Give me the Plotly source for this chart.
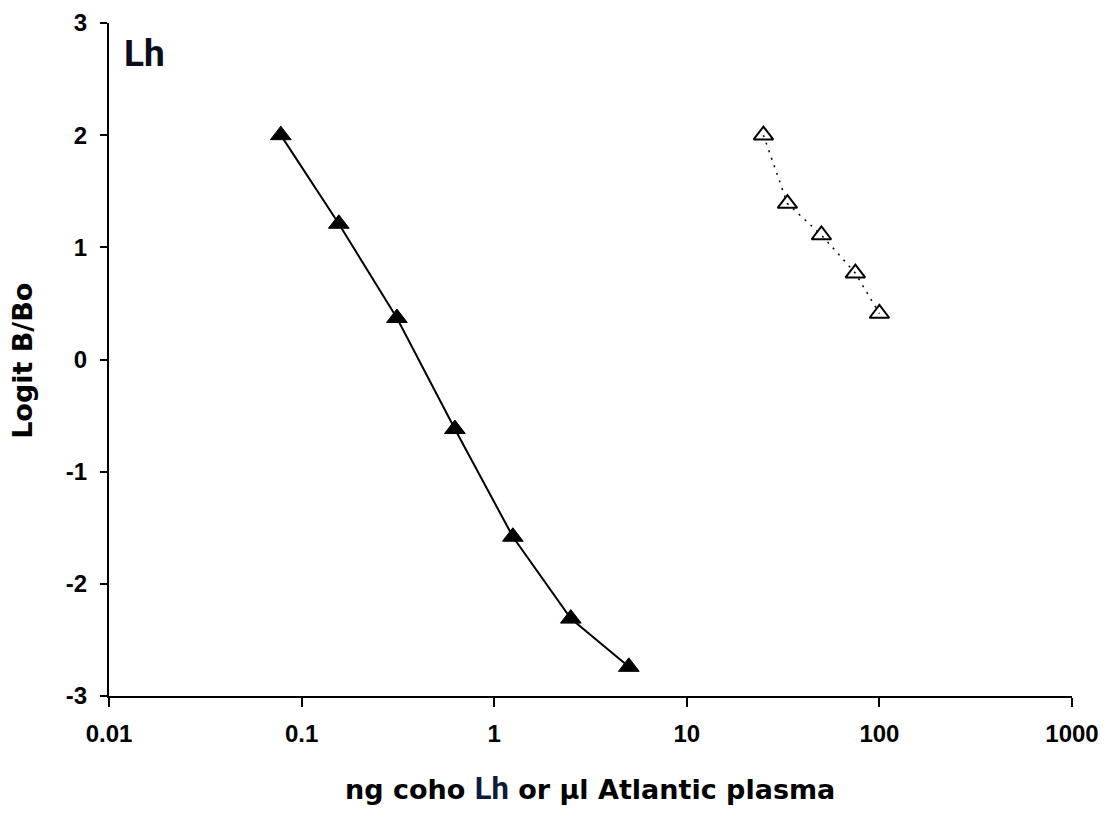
import plotly.graph_objects as go

# Data
coho_x = [0.078, 0.156, 0.3125, 0.625, 1.25, 2.5, 5.0]
coho_y = [2.0, 1.21, 0.37, -0.62, -1.58, -2.31, -2.74]
plasma_x = [25, 33.3, 50, 75, 100]
plasma_y = [2.0, 1.39, 1.11, 0.77, 0.41]

x_tickvals = [0.01, 0.1, 1, 10, 100, 1000]
x_ticktext = ["0.01", "0.1", "1", "10", "100", "1000"]
y_tickvals = [3, 2, 1, 0, -1, -2, -3]
y_ticktext = ["3", "2", "1", "0", "-1", "-2", "-3"]

fig = go.Figure()
fig.add_trace(go.Scatter(
    x=coho_x, y=coho_y, mode="lines+markers",
    line=dict(color="black", width=2),
    marker=dict(symbol="triangle-up", size=18, color="black",
                line=dict(color="black", width=1)),
    showlegend=False))
fig.add_trace(go.Scatter(
    x=plasma_x, y=plasma_y, mode="lines+markers",
    line=dict(color="black", width=1.5, dash="2px,6px"),
    marker=dict(symbol="triangle-up-open", size=17, color="black",
                line=dict(color="black", width=2)),
    showlegend=False))

tickfont = dict(family="Liberation Sans, Arial", size=24, color="black", weight="bold")

fig.update_layout(
    width=1104, height=822,
    margin=dict(l=109, r=32, t=23, b=126, autoexpand=False),
    plot_bgcolor="white", paper_bgcolor="white",
    xaxis=dict(type="log", range=[-2, 3], tickmode="array",
               tickvals=x_tickvals, ticktext=x_ticktext,
               showgrid=False, zeroline=False, showline=True,
               linecolor="black", linewidth=2, automargin=False,
               ticks="outside", ticklen=9, tickwidth=2, tickcolor="black",
               tickfont=tickfont, ticklabelstandoff=6),
    yaxis=dict(range=[-3, 3], tickmode="array",
               tickvals=y_tickvals, ticktext=y_ticktext,
               showgrid=False, zeroline=False, showline=True,
               linecolor="black", linewidth=2, automargin=False,
               ticks="outside", ticklen=7, tickwidth=2, tickcolor="black",
               tickfont=tickfont, ticklabelstandoff=8),
)

title_font = dict(family="DejaVu Sans", size=27, color="black", weight="bold")

fig.add_annotation(
    xref="paper", yref="paper", x=0.499, y=-0.138,
    xanchor="center", yanchor="middle", showarrow=False,
    text='ng coho <span style="font-family:Roboto;font-size:31px;font-weight:bold;color:#0d1b3e">Lh</span> or µl Atlantic plasma',
    font=title_font)
fig.add_annotation(
    xref="paper", yref="paper", x=-0.0893, y=0.498,
    xanchor="center", yanchor="middle", showarrow=False, textangle=-90,
    text="Logit B/Bo", font=title_font)
fig.add_annotation(
    xref="paper", yref="paper", x=0.014, y=0.955,
    xanchor="left", yanchor="middle", showarrow=False,
    text="Lh", font=dict(family="Roboto", size=37, color="#0d0d1a", weight="bold"))

fig.write_html("out.html")
